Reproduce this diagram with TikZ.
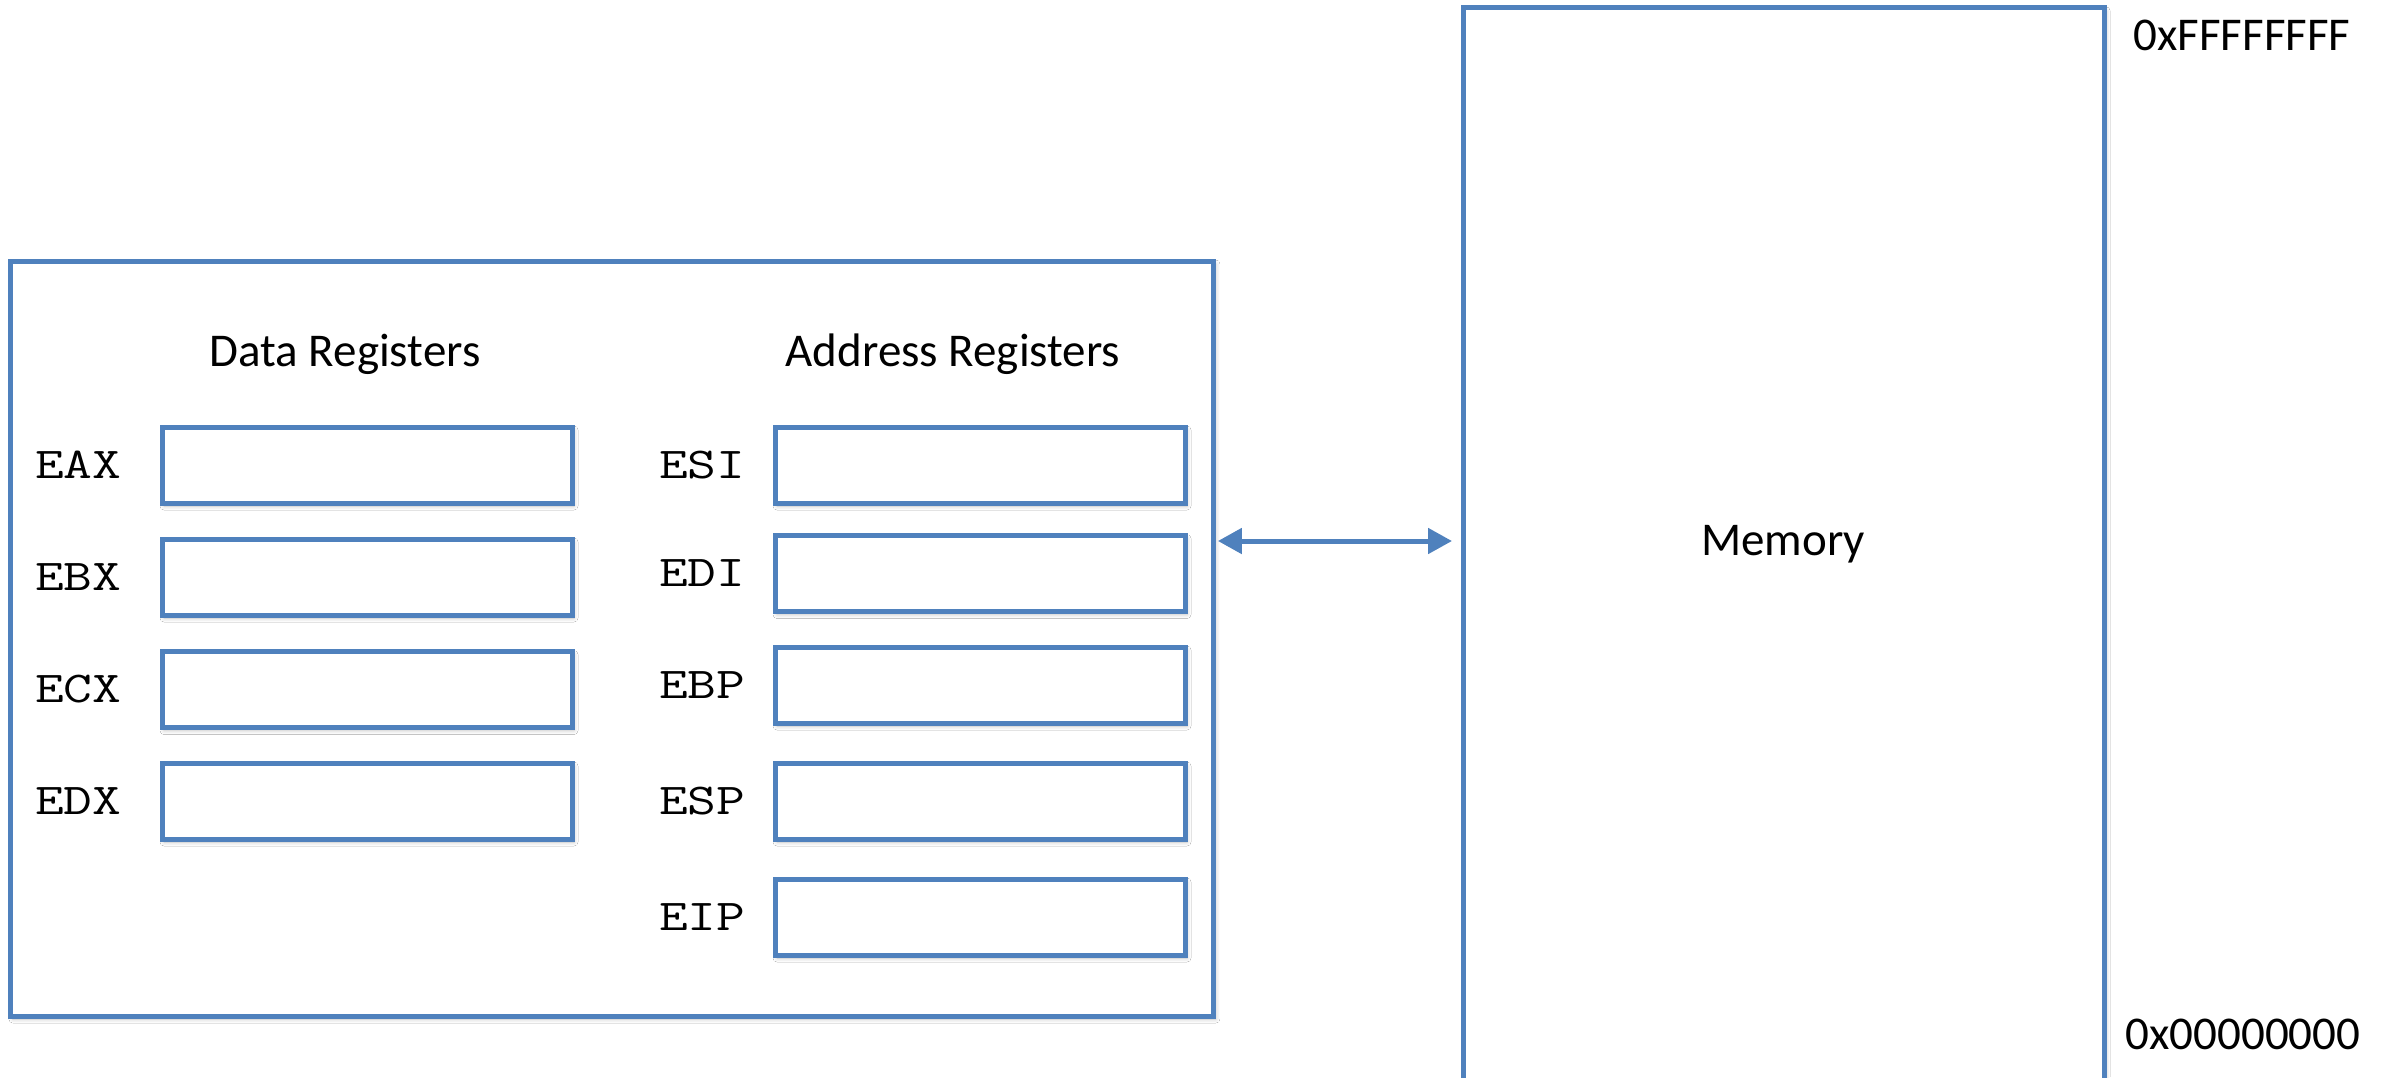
\documentclass[tikz,border=0pt]{standalone}
\usepackage{fontspec}
\setmainfont{Carlito}
\usetikzlibrary{arrows.meta,shadows.blur}
\definecolor{boxblue}{HTML}{4F81BD}
\newcommand{\regname}[1]{\scalebox{1.27}[1]{\ttfamily\fontsize{44pt}{52pt}\selectfont #1}}
\begin{document}
\begin{tikzpicture}[x=1pt,y=-1pt,
  box/.style={draw=boxblue, line width=5pt, fill=white, rectangle, inner sep=0pt, outer sep=0pt,
    blur shadow={shadow xshift=2pt, shadow yshift=-3pt, shadow blur radius=4pt, shadow opacity=25}},
  regbox/.style={box, minimum width=410pt, minimum height=76pt},
  reglbl/.style={anchor=west, inner sep=0pt},
  txt/.style={font=\fontsize{47pt}{56pt}\selectfont, inner sep=0pt, anchor=base},
  arr/.style={draw=boxblue, line width=5pt, {Triangle[length=24pt,width=25pt]}-{Triangle[length=24pt,width=25pt]}, shorten <=4pt, shorten >=11pt}]
\useasboundingbox (0,0) rectangle (2392,1077);
\clip (0,0) rectangle (2392,1077);
\fill[white] (0,0) rectangle (2392,1077);

% CPU box
\node[box, minimum width=1203pt, minimum height=755pt] (cpu) at (612.4,638.5) {};
% Memory box
\node[box, minimum width=641pt, minimum height=1092pt] (mem) at (1783.5,553.8) {};

% titles
\node[txt] (dtitle) at (345,366) {Data Registers};
\node[txt] (atitle) at (953,366) {Address Registers};
\node[txt] (memlbl) at (1783,555) {Memory};
\node[txt] (hi) at (2242,50) {0xFFFFFFFF};
\node[txt] (lo) at (2243,1049) {0x00000000};

% data registers
\node[regbox] (eax) at (367,465) {};
\node[regbox] (ebx) at (367,577) {};
\node[regbox] (ecx) at (367,689.5) {};
\node[regbox] (edx) at (367,801) {};
\node[reglbl] (eaxl) at (35,465) {\regname{EAX}};
\node[reglbl] (ebxl) at (35,577) {\regname{EBX}};
\node[reglbl] (ecxl) at (35,689.5) {\regname{ECX}};
\node[reglbl] (edxl) at (35,801) {\regname{EDX}};

% address registers
\node[regbox] (esi) at (980,465) {};
\node[regbox] (edi) at (980,573.5) {};
\node[regbox] (ebp) at (980,685) {};
\node[regbox] (esp) at (980,801) {};
\node[regbox] (eip) at (980,917) {};
\node[reglbl] (esil) at (659,465) {\regname{ESI}};
\node[reglbl] (edil) at (659,573.5) {\regname{EDI}};
\node[reglbl] (ebpl) at (659,685) {\regname{EBP}};
\node[reglbl] (espl) at (659,801) {\regname{ESP}};
\node[reglbl] (eipl) at (659,917) {\regname{EIP}};

% arrow
\coordinate (ay) at (0,541);
\draw[arr] (cpu.east |- ay) -- (mem.west |- ay);
\end{tikzpicture}
\end{document}
